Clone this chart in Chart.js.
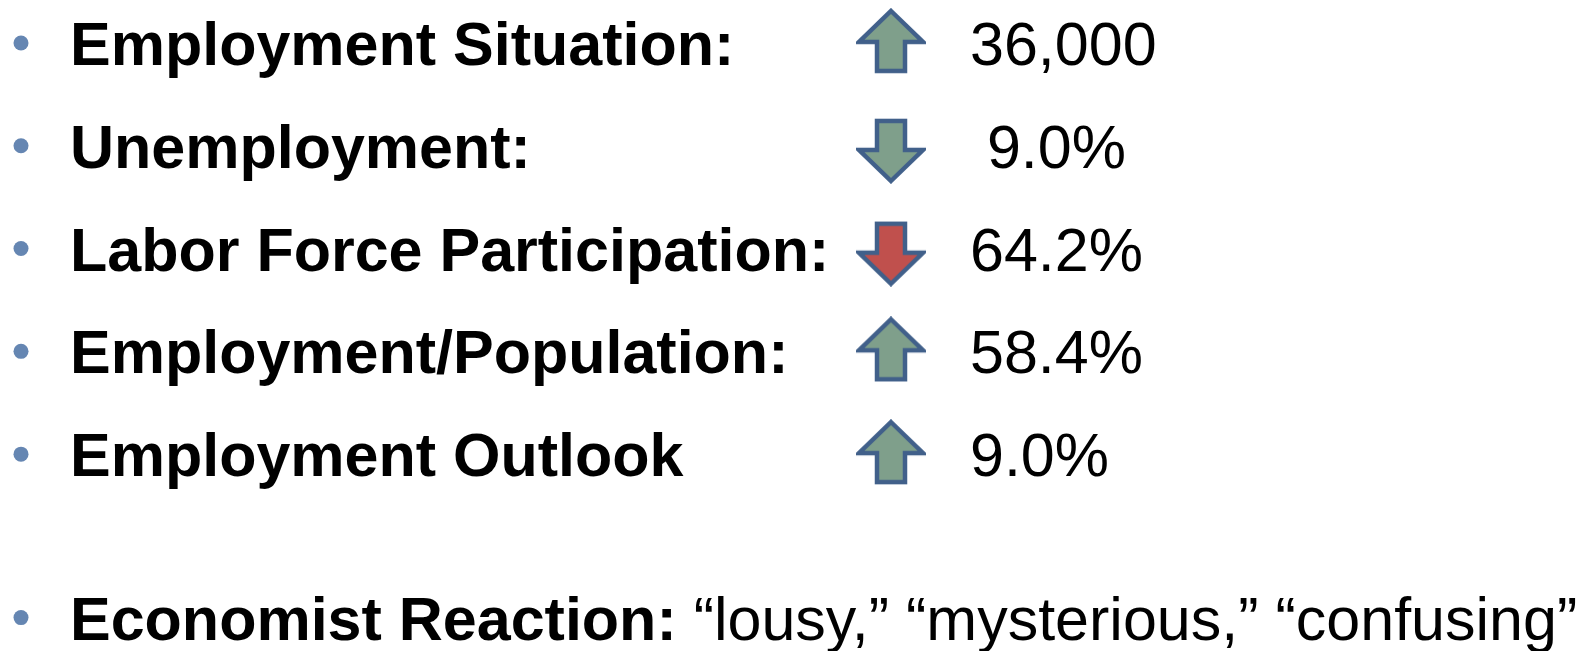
<!DOCTYPE html>
<html>
<head>
<meta charset="utf-8">
<script src="https://cdn.jsdelivr.net/npm/chart.js@4"></script>
<style>
  html, body { margin: 0; padding: 0; background: #fff; }
  #wrap { width: 1590px; height: 651px; position: relative; }
</style>
</head>
<body>
<div id="wrap"><canvas id="slide-chart"></canvas></div>
<script>
(function () {
    "use strict";

    // indicator rows
    const indicators = ["Employment Situation:", "Unemployment:", "Labor Force Participation:", "Employment/Population:", "Employment Outlook"];
    const readings = ["36,000", " 9.0%", "64.2%", "58.4%", "9.0%"];
    const directions = ["up", "down", "down", "up", "up"];
    const verdicts = ["good", "good", "bad", "good", "good"];

    // closing line
    const reactionLabel = "Economist Reaction:";
    const reactionWords = ["\u201Clousy,\u201D", "\u201Cmysterious,\u201D", "\u201Cconfusing\u201D"];

    // layout (x in pixels of the hidden x scale, y in row units)
    const bulletCol = 21;
    const labelCol = 70;
    const arrowCol = 891;
    const valueCol = 970;
    const reactionRow = 5.59;
    const baselineShift = 22;

    const fillFor = { good: "#7f9f8b", bad: "#c0504d" };
    const outline = "#41608a";
    const bulletColor = "#6586b2";
    const boldFont = "bold 61px 'Liberation Sans', Arial, sans-serif";
    const plainFont = "61px 'Liberation Sans', Arial, sans-serif";

    function makeArrow(dir, fill) {
        var c = document.createElement("canvas");
        c.width = 70;
        c.height = 66;
        var g = c.getContext("2d");
        if (dir === "down") {
            g.translate(0, 66);
            g.scale(1, -1);
        }
        g.beginPath();
        g.moveTo(35, 3);
        g.lineTo(67, 34);
        g.lineTo(49, 34);
        g.lineTo(49, 63);
        g.lineTo(21, 63);
        g.lineTo(21, 34);
        g.lineTo(3, 34);
        g.closePath();
        g.fillStyle = fill;
        g.fill();
        g.lineWidth = 4.5;
        g.lineJoin = "miter";
        g.strokeStyle = outline;
        g.stroke();
        return c;
    }

    const arrowImages = directions.map(function (d, i) {
        return makeArrow(d, fillFor[verdicts[i]]);
    });

    const arrowPoints = indicators.map(function (name, i) {
        return { x: arrowCol, y: i + (directions[i] === "down" ? 0.05 : -0.02) };
    });
    const bulletPoints = indicators.map(function (name, i) {
        return { x: bulletCol, y: i };
    }).concat([{ x: bulletCol, y: reactionRow }]);

    const textPlugin = {
        id: "rowText",
        afterDatasetsDraw: function (chart) {
            var ctx = chart.ctx;
            var xs = chart.scales.x;
            var ys = chart.scales.y;
            ctx.save();
            ctx.fillStyle = "#000";
            ctx.textBaseline = "alphabetic";
            ctx.textAlign = "left";
            indicators.forEach(function (name, i) {
                var y = ys.getPixelForValue(i) + baselineShift;
                ctx.font = boldFont;
                ctx.fillText(name, xs.getPixelForValue(labelCol), y);
                ctx.font = plainFont;
                ctx.fillText(readings[i], xs.getPixelForValue(valueCol), y);
            });
            var ry = ys.getPixelForValue(reactionRow) + baselineShift;
            var rx = xs.getPixelForValue(labelCol);
            ctx.font = boldFont;
            ctx.fillText(reactionLabel, rx, ry);
            rx += ctx.measureText(reactionLabel + " ").width;
            ctx.font = plainFont;
            ctx.fillText(reactionWords.join(" "), rx, ry);
            ctx.restore();
        }
    };

    var ctx = document.getElementById("slide-chart").getContext("2d");
    new Chart(ctx, {
        type: "scatter",
        data: {
            datasets: [{
                label: "bullets",
                data: bulletPoints,
                pointStyle: "circle",
                pointRadius: 7.5,
                backgroundColor: bulletColor,
                borderWidth: 0
            }, {
                label: "direction",
                data: arrowPoints,
                pointStyle: function (c) { return arrowImages[c.dataIndex]; },
                pointRadius: 33
            }]
        },
        options: {
            responsive: true,
            maintainAspectRatio: false,
            animation: false,
            layout: { padding: 0, autoPadding: false },
            plugins: {
                legend: { display: false },
                tooltip: { enabled: false }
            },
            events: [],
            scales: {
                x: { type: "linear", display: false, min: 0, max: 1590 },
                y: { type: "linear", display: false, reverse: true, min: -0.418, max: 5.915 }
            }
        },
        plugins: [textPlugin]
    });

})();
</script>
</body>
</html>
